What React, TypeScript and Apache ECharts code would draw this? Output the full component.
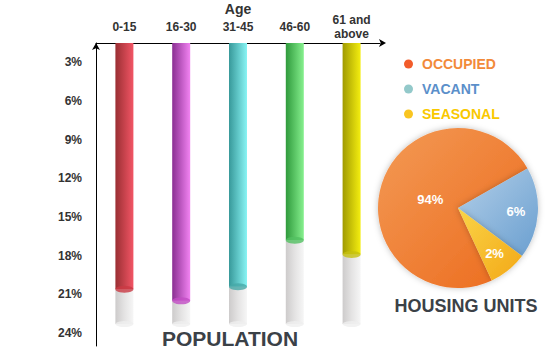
import React, { useEffect, useRef } from "react";
import * as echarts from "echarts";

const ageGroups = ["0-15", "16-30", "31-45", "46-60", "61 and\nabove"];
const populationShare = [20.6, 21.5, 20.4, 16.8, 17.9];
const columnBottom = 23.3;

const housingTypes = ["OCCUPIED", "VACANT", "SEASONAL"];
const housingShares = [73.7, 18.5, 7.8];
const housingLabels = ["94%", "6%", "2%"];

const barColors = [
  ["#9a2f33", "#f25565"],
  ["#8a2f92", "#f283f2"],
  ["#38999a", "#88f4f4"],
  ["#2f9a3c", "#86f08e"],
  ["#a09a00", "#f4ee10"],
];
const capColors = ["#c93a44", "#c24cc4", "#46a9a8", "#52c062", "#c6c010"];
const sliceColors = [
  ["#f39a55", "#ec6a1c"],
  ["#b3cfe8", "#6a9fd0"],
  ["#fad448", "#f3a816"],
];
const legendIconColors = ["#f25c2a", "#93c9ca", "#f9c521"];
const legendTextColors = ["#f28a3a", "#5b8fca", "#f9c800"];

const FONT = "Arial, 'Liberation Sans', sans-serif";

export default function App() {
  const ref = useRef<HTMLDivElement>(null);
  useEffect(() => {
    if (!ref.current) return;
    const chart = echarts.init(ref.current, undefined, { renderer: "svg" });
    const ellipse = "path://M0,50 A50,50 0 1,0 100,50 A50,50 0 1,0 0,50 Z";
    const pieData = (labelFor: (i: number) => boolean, transparent: boolean) =>
      housingTypes.map((name, i) => ({
        name,
        value: housingShares[i],
        itemStyle: transparent
          ? { color: "rgba(0,0,0,0)" }
          : {
              color: new echarts.graphic.LinearGradient(0, 0, 1, 1, [
                { offset: 0, color: sliceColors[i][0] },
                { offset: 1, color: sliceColors[i][1] },
              ]),
            },
        label: {
          show: labelFor(i),
          formatter: housingLabels[i],
        },
      }));
    chart.setOption({
      animation: false,
      grid: { left: 96, right: 170, top: 43, bottom: 4, containLabel: false, outerBoundsMode: "none" },
      xAxis: {
        type: "category",
        position: "top",
        data: ageGroups,
        name: "Age",
        nameLocation: "middle",
        nameGap: 27,
        nameMoveOverlap: false,
        nameTextStyle: { fontFamily: FONT, fontWeight: "bold", fontSize: 14, color: "#333" },
        axisLine: { lineStyle: { color: "#000", width: 1 }, symbol: ["none", "arrow"], symbolSize: [6, 7], symbolOffset: [0, 6] },
        axisTick: { show: false },
        axisLabel: {
          fontFamily: FONT,
          fontWeight: "bold",
          fontSize: 12,
          color: "#333",
          verticalAlign: "middle",
          margin: 16,
          lineHeight: 14,
        },
      },
      yAxis: {
        type: "value",
        inverse: true,
        min: 1.5,
        max: 25,
        interval: 1.5,
        axisLine: { show: true, lineStyle: { color: "#000", width: 1 }, symbol: ["none", "arrow"], symbolSize: [6, 7] },
        axisTick: { show: false },
        splitLine: { show: false },
        axisLabel: {
          fontFamily: FONT,
          fontWeight: "bold",
          fontSize: 12,
          color: "#333",
          margin: 14,
          formatter: (v: number) =>
            Math.abs(v / 3 - Math.round(v / 3)) < 1e-6 && v > 0 && v <= 24 ? Math.round(v) + "%" : "",
        },
      },
      legend: {
        orient: "vertical",
        left: 399,
        top: 52,
        itemGap: 11,
        itemWidth: 9,
        itemHeight: 11,
        icon: ellipse,
        selectedMode: false,
        data: housingTypes.map((name, i) => ({
          name,
          itemStyle: { color: legendIconColors[i] },
          textStyle: { color: legendTextColors[i], fontWeight: "bold", fontSize: 14, fontFamily: FONT },
        })),
        textStyle: { padding: [0, 0, 0, 4] },
      },
      series: [
        {
          type: "bar",
          stack: "pop",
          barWidth: 18,
          clip: true,
          data: populationShare.map((v, i) => ({
            value: v,
            itemStyle: {
              color: new echarts.graphic.LinearGradient(0, 0, 1, 0, [
                { offset: 0, color: barColors[i][0] },
                { offset: 1, color: barColors[i][1] },
              ]),
            },
          })),
        },
        {
          type: "bar",
          stack: "pop",
          barWidth: 18,
          data: populationShare.map((v) => columnBottom - v),
          itemStyle: {
            color: new echarts.graphic.LinearGradient(0, 0, 1, 0, [
              { offset: 0, color: "#cdcbcb" },
              { offset: 0.5, color: "#e4e3e3" },
              { offset: 1, color: "#f6f6f6" },
            ]),
          },
        },
        {
          type: "scatter",
          symbol: "circle",
          symbolSize: [18, 6],
          z: 5,
          data: ageGroups.map(() => columnBottom),
          itemStyle: { color: "#efefef" },
        },
        {
          type: "scatter",
          symbol: "circle",
          symbolSize: [18, 7],
          z: 6,
          data: populationShare.map((v, i) => ({ value: v, itemStyle: { color: capColors[i] } })),
        },
        {
          type: "pie",
          center: [458, 208],
          radius: [0, 80],
          startAngle: 295,
          clockwise: true,
          silent: true,
          itemStyle: { shadowBlur: 6, shadowColor: "rgba(0,0,0,0.25)" },
          label: { show: false },
          labelLine: { show: false },
          data: pieData(() => false, false),
        },
        {
          type: "pie",
          center: [458, 208],
          radius: [0, 52],
          startAngle: 295,
          silent: true,
          label: { position: "inner", color: "#fff", fontWeight: "bold", fontSize: 13, fontFamily: FONT },
          labelLine: { show: false },
          data: pieData((i) => i === 0, true),
        },
        {
          type: "pie",
          center: [458, 208],
          radius: [0, 110],
          startAngle: 295,
          silent: true,
          label: { position: "inner", color: "#fff", fontWeight: "bold", fontSize: 13, fontFamily: FONT },
          labelLine: { show: false },
          data: pieData((i) => i > 0, true),
        },
      ],
      graphic: [
        {
          type: "text",
          x: 230,
          y: 338,
          style: {
            text: "POPULATION",
            fontFamily: FONT,
            fontWeight: "bold",
            fontSize: 21,
            fill: "#3b4147",
            textAlign: "center",
            textVerticalAlign: "middle",
          },
        },
        {
          type: "text",
          x: 466,
          y: 306,
          style: {
            text: "HOUSING UNITS",
            fontFamily: FONT,
            fontWeight: "bold",
            fontSize: 18,
            fill: "#3b4147",
            textAlign: "center",
            textVerticalAlign: "middle",
          },
        },
      ],
    });
    return () => chart.dispose();
  }, []);
  return <div ref={ref} style={{ position: "absolute", left: 0, top: 0, width: 550, height: 350 }} />;
}
